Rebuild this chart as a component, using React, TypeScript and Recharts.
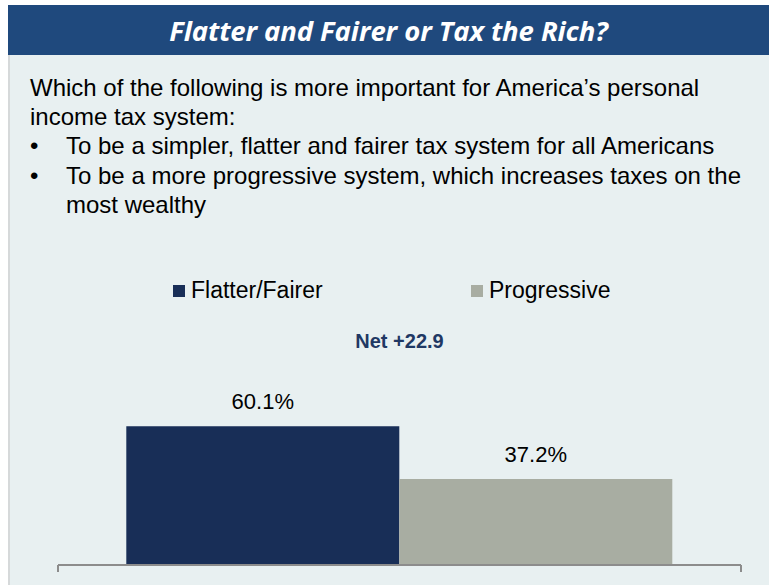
import { BarChart, Bar, XAxis, YAxis, Legend, LabelList } from "recharts";

const categories = ["Income tax system"];
const flatterValues = [60.1];
const progressiveValues = [37.2];
const seriesNames = ["Flatter/Fairer", "Progressive"];
const seriesColors = ["#182e57", "#a8ada2"];
const netLabel = "Net +22.9";

const title = "Flatter and Fairer or Tax the Rich?";
const question = "Which of the following is more important for America\u2019s personal income tax system:";
const options = [
  "To be a simpler, flatter and fairer tax system for all Americans",
  "To be a more progressive system, which increases taxes on the most wealthy",
];

const FONT = "'Liberation Sans', Arial, sans-serif";

const data = categories.map((name, i) => ({
  name,
  flatter: flatterValues[i],
  progressive: progressiveValues[i],
}));

// tick marks at the category edges, like the original (no tick text)
const EdgeTicks = (props: any) => {
  const { x, y, payload, width } = props;
  const half = payload?.offset ? payload.offset : (width || 0) / 2;
  return (
    <g>
      <line x1={x - half} y1={y} x2={x - half} y2={y + 7} stroke="#8c8c8c" strokeWidth={2} />
      <line x1={x + half} y1={y} x2={x + half} y2={y + 7} stroke="#8c8c8c" strokeWidth={2} />
    </g>
  );
};

const LegendContent = () => (
  <div style={{ display: "flex", paddingLeft: 173, fontFamily: FONT, fontSize: 23, lineHeight: "23px" }}>
    {seriesNames.map((n, i) => (
      <div key={n} style={{ width: 298, display: "flex", alignItems: "center" }}>
        <span style={{ width: 12, height: 12, background: seriesColors[i], marginRight: 6, display: "inline-block" }} />
        <span style={{ color: "#000" }}>{n}</span>
      </div>
    ))}
  </div>
);

export default function App() {
  return (
    <div style={{ position: "absolute", left: 0, top: 0, width: 769, height: 585, background: "#fff", overflow: "hidden" }}>
      <div
        style={{
          position: "absolute", left: 8, top: 5, width: 761, height: 50, background: "#1f497d",
          display: "flex", alignItems: "center", justifyContent: "center",
          color: "#fff", fontFamily: "'Open Sans', Lato, sans-serif", fontStyle: "italic", fontWeight: 700, fontSize: 27.5,
          letterSpacing: -0.1, paddingTop: 1, boxSizing: "border-box",
        }}
      >
        {title}
      </div>
      <div style={{ position: "absolute", left: 8, top: 55, width: 761, height: 530, background: "#e8f0f1", borderLeft: "2px solid #d6d9da" }} />
      <div style={{ position: "absolute", left: 30, top: 73, width: 735, fontFamily: FONT, fontSize: 24, lineHeight: "29.2px", color: "#000" }}>
        <div>{question}</div>
        {options.map((o) => (
          <div key={o} style={{ display: "flex" }}>
            <span style={{ width: 36, flexShrink: 0, paddingLeft: 0 }}>{"\u2022"}</span>
            <span>{o}</span>
          </div>
        ))}
      </div>
      <div style={{ position: "absolute", left: 58, top: 331, width: 683, textAlign: "center", fontFamily: FONT, fontWeight: 700, fontSize: 20, lineHeight: "20px", color: "#1f3864" }}>
        {netLabel}
      </div>
      <div style={{ position: "absolute", left: 0, top: 0 }}>
        <BarChart
          width={769}
          height={585}
          data={data}
          margin={{ top: 334, right: 28, bottom: 0, left: 58 }}
          barCategoryGap="10%"
          barGap={0}
        >
          <XAxis
            dataKey="name"
            height={20}
            axisLine={{ stroke: "#8c8c8c", strokeWidth: 2 }}
            tickLine={false}
            tickSize={0}
            tickMargin={0}
            tick={<EdgeTicks />}
          />
          <YAxis hide domain={[0, 100]} />
          <Legend
            layout="horizontal"
            verticalAlign="middle"
            content={<LegendContent />}
            wrapperStyle={{ top: 279, left: 0, width: 769 }}
          />
          <Bar dataKey="flatter" name={seriesNames[0]} fill={seriesColors[0]} isAnimationActive={false}>
            <LabelList
              dataKey="flatter"
              position="top"
              offset={17}
              formatter={(v: any) => `${Number(v).toFixed(1)}%`}
              style={{ fontFamily: FONT, fontSize: 22, fill: "#000" }}
            />
          </Bar>
          <Bar dataKey="progressive" name={seriesNames[1]} fill={seriesColors[1]} isAnimationActive={false}>
            <LabelList
              dataKey="progressive"
              position="top"
              offset={17}
              formatter={(v: any) => `${Number(v).toFixed(1)}%`}
              style={{ fontFamily: FONT, fontSize: 22, fill: "#000" }}
            />
          </Bar>
        </BarChart>
      </div>
    </div>
  );
}
